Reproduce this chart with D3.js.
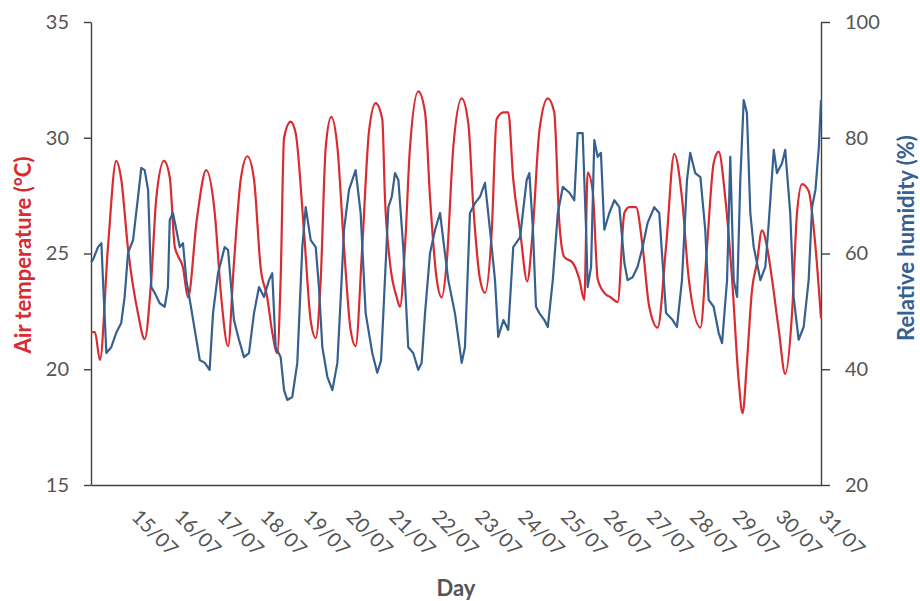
<!DOCTYPE html>
<html>
<head>
<meta charset="utf-8">
<script src="https://cdn.jsdelivr.net/npm/d3@7"></script>
<style>
  body { margin: 0; background: #fff; }
  svg { display: block; font-family: Lato, 'Open Sans', sans-serif; }
</style>
</head>
<body>
<div id="chart"></div>
<script>
// Série horária: [horas desde 14/07 00:00, valor]
const startDay = new Date(2019, 6, 14);
const dayLabels = ['15/07', '16/07', '17/07', '18/07', '19/07', '20/07', '21/07', '22/07',
    '23/07', '24/07', '25/07', '26/07', '27/07', '28/07', '29/07', '30/07', '31/07'];
const tempTicks = [15, 20, 25, 30, 35];
const humTicks = [20, 40, 60, 80, 100];

const airTemp = [
    [0, 21.6], [2.2, 21.6], [5, 20.4], [9.5, 25.3], [14.1, 29.0], [16.9, 28.2], [20.7, 25.2],
    [26.3, 22.4], [30, 21.3], [33.7, 23.9], [36.5, 27.4], [40.8, 29.0], [44, 28.3], [46.8, 25.3],
    [48.6, 24.9], [51.4, 24.4], [54.2, 23.1], [59.2, 26.5], [64.4, 28.6], [69.1, 26.8], [72.8, 23.1],
    [76.6, 21.0], [79.9, 24.6], [83.7, 28.2], [87.4, 29.2], [91.1, 28.2], [94.8, 24.4], [98.5, 23.1],
    [101.3, 21.6], [104.1, 20.7], [106, 23.9], [107.9, 30.0], [111.6, 30.7], [114.4, 30.2],
    [119, 26.0], [122.8, 22.1], [125.6, 21.35], [128.4, 23.9], [131.2, 29.6], [134.3, 30.9],
    [137.7, 29.6], [141.4, 25.3], [145.1, 21.7], [147.9, 21.0], [151.6, 25.3], [155.4, 30.3],
    [159.1, 31.5], [162.8, 30.8], [164.3, 27.4], [167.1, 24.6], [170.9, 23.1], [172.7, 22.7],
    [175.5, 25.3], [178.3, 29.6], [182.9, 32.0], [186.7, 31.1], [189.5, 27.4], [193.2, 23.9],
    [196, 23.1], [198.8, 24.6], [202.5, 29.6], [207.2, 31.7], [210.9, 30.6], [213.7, 27.0],
    [217.4, 23.9], [220.2, 23.3], [224, 26.0], [226.7, 30.8], [230.5, 31.1], [233.2, 31.1],
    [236, 28.2], [239.8, 26.0], [243.8, 23.8], [246.9, 26.0], [250.6, 30.3], [255.3, 31.7],
    [258.9, 31.1], [261.7, 26.4], [264.5, 24.85], [269.2, 24.6], [272.9, 23.9], [275.7, 23.0],
    [277.6, 28.5], [280.4, 27.7], [283.2, 23.9], [286.9, 23.3], [290.6, 23.1], [294.4, 22.9],
    [298.1, 26.75], [300.9, 27.0], [304.6, 27.0], [308.3, 25.3], [312, 22.7], [316.7, 21.8],
    [321.4, 25.3], [326, 29.3], [330.3, 27.4], [334.1, 23.9], [340.6, 21.8], [344.3, 25.3],
    [348, 28.9], [350.8, 29.4], [354.5, 27.4], [358.3, 23.9], [362, 19.5], [364.2, 18.1],
    [366.6, 20.3], [369.4, 23.4], [372.2, 24.6], [375, 26.0], [377.8, 25.3], [380.6, 23.9],
    [384.4, 21.7], [388, 19.8], [391.8, 22.4], [394.6, 26.75], [397.4, 28.0], [401.1, 27.7],
    [404.9, 25.3], [408, 22.2]
];

const relHumidity = [
    [0, 58.5], [1.1, 58.9], [3.9, 61.1], [5.8, 61.8], [6.7, 55.4], [8.6, 42.8], [11.3, 43.8],
    [14.1, 46.3], [16.9, 48.0], [18.8, 52.5], [20.7, 60.1], [23.5, 62.3], [26.3, 69.8], [28.1, 74.8],
    [30, 74.4], [31.9, 71.0], [33.7, 54.2], [35.6, 53.2], [38.4, 51.4], [41.2, 50.8], [43, 54.2],
    [44, 65.8], [45.8, 67.0], [47.7, 64.1], [49.6, 61.1], [51.4, 61.8], [53.3, 55.4], [55.2, 52.0],
    [58, 46.8], [60.8, 41.6], [63.6, 41.1], [66.3, 39.9], [68.2, 49.7], [71, 56.6], [74.7, 61.1],
    [76.6, 60.6], [79.9, 48.5], [82.7, 45.1], [85.5, 42.1], [88.3, 42.8], [91.1, 49.7], [93.9, 54.2],
    [96.7, 52.5], [99.5, 55.4], [101.3, 56.6], [103.2, 43.8], [106, 42.1], [107.9, 36.4],
    [109.7, 34.7], [112.5, 35.2], [115.3, 41.1], [118.1, 61.1], [120, 68.0], [122.8, 62.3],
    [125.6, 61.1], [127.4, 54.2], [129.3, 43.8], [132.1, 38.7], [134.9, 36.4], [137.7, 41.1],
    [139.6, 52.5], [141.4, 64.1], [144.2, 71.0], [147.9, 74.4], [150.7, 67.0], [153.5, 49.7],
    [157.2, 42.8], [160, 39.4], [162.1, 41.5], [163.4, 49.7], [166.2, 68.0], [168.1, 69.8],
    [169.9, 73.9], [171.8, 72.7], [174.5, 61.1], [177.3, 43.8], [180.1, 42.8], [182.9, 39.9],
    [184.8, 41.1], [186.7, 49.7], [189.5, 60.1], [192.3, 64.1], [195.1, 67.0], [196.9, 62.3],
    [199.7, 55.4], [203.4, 49.7], [207.2, 41.1], [209, 43.8], [211.8, 67.0], [214.6, 68.7],
    [217.4, 69.8], [220.2, 72.2], [223, 64.1], [225.8, 55.4], [227.6, 45.6], [230.5, 48.5],
    [233.2, 46.8], [236, 61.1], [239.8, 62.8], [243.5, 72.7], [245, 73.9], [247, 64.1],
    [248.7, 50.8], [250.6, 49.7], [253.4, 48.5], [255.3, 47.3], [258.1, 55.4], [260.9, 67.0],
    [263.7, 71.5], [267.4, 70.5], [270.1, 69.2], [272, 80.8], [274.8, 80.8], [276.7, 64.1],
    [277.6, 54.2], [279.5, 57.7], [281.3, 79.6], [283.2, 76.7], [285, 77.4], [286.9, 64.1],
    [289.7, 67.0], [292.5, 69.2], [295.3, 68.0], [298.1, 58.4], [299.9, 55.4], [302.7, 55.9],
    [305.5, 57.7], [308.3, 61.1], [311.1, 65.3], [314.8, 68.0], [317.6, 67.0], [321.4, 49.7],
    [325.1, 48.5], [327.5, 47.3], [330.3, 55.4], [333.1, 72.7], [334.9, 77.4], [337.7, 73.9],
    [340.6, 73.2], [343.3, 64.1], [345.2, 52.0], [348, 50.8], [350.8, 46.3], [352.7, 44.5],
    [355.5, 55.4], [357.3, 76.7], [359.2, 55.4], [361.1, 52.5], [362.9, 72.7], [364.8, 86.5],
    [366.6, 84.3], [368.5, 67.0], [370.4, 61.1], [372.2, 58.4], [374.1, 55.4], [376.9, 57.7],
    [378.8, 65.3], [381.6, 77.9], [383.4, 73.9], [386.2, 75.6], [388, 77.9], [390.8, 67.0],
    [392.7, 52.5], [395.5, 45.1], [398.3, 47.3], [401.1, 55.4], [403, 68.0], [404.9, 71.0],
    [406.8, 78.4], [408, 86.5]
];

const RED = '#d92b30';
const BLUE = '#35608f';
const GREY = '#555555';

const width = 920, height = 601;
const margin = { top: 22, right: 99, bottom: 116, left: 91 };
const innerW = width - margin.left - margin.right;
const innerH = height - margin.top - margin.bottom;

const svg = d3.select('#chart').append('svg')
    .attr('width', width)
    .attr('height', height);

const g = svg.append('g')
    .attr('transform', `translate(${margin.left},${margin.top})`);

const toDate = h => new Date(startDay.getTime() + h * 3600e3);

const x = d3.scaleTime()
    .domain([startDay, d3.timeDay.offset(startDay, 17)])
    .range([0, innerW]);
const yT = d3.scaleLinear().domain([15, 35]).range([innerH, 0]);
const yH = d3.scaleLinear().domain([20, 100]).range([innerH, 0]);

// Eixo esquerdo (temperatura)
const axL = g.append('g')
    .call(d3.axisLeft(yT).tickValues(tempTicks).tickSize(7).tickSizeOuter(0).tickPadding(15));
// Eixo direito (humidade)
const axR = g.append('g')
    .attr('transform', `translate(${innerW},0)`)
    .call(d3.axisRight(yH).tickValues(humTicks).tickSize(9).tickSizeOuter(0).tickPadding(15));
// Eixo X (dias)
const dayDates = dayLabels.map((_, i) => d3.timeDay.offset(startDay, i + 1));
const axB = g.append('g')
    .attr('transform', `translate(0,${innerH})`)
    .call(d3.axisBottom(x).tickValues(dayDates).tickSize(0).tickSizeOuter(0)
        .tickFormat((d, i) => dayLabels[i]));

[axL, axR, axB].forEach(ax => {
    ax.select('.domain').attr('stroke', '#404040').attr('stroke-width', 1.4);
    ax.selectAll('.tick line').attr('stroke', '#404040').attr('stroke-width', 1.4);
    ax.selectAll('.tick text').attr('fill', GREY).attr('font-size', '20px')
        .attr('font-family', "Lato, 'Open Sans', sans-serif");
});

axB.selectAll('.tick text')
    .attr('text-anchor', 'start')
    .attr('x', 0).attr('y', 0).attr('dy', 0)
    .attr('transform', 'translate(-4,33) rotate(45)');

// Linhas
const tempLine = d3.line()
    .x(d => x(toDate(d[0])))
    .y(d => yT(d[1]))
    .curve(d3.curveMonotoneX);
const humLine = d3.line()
    .x(d => x(toDate(d[0])))
    .y(d => yH(d[1]));

g.append('path')
    .datum(airTemp)
    .attr('fill', 'none')
    .attr('stroke', RED)
    .attr('stroke-width', 2.2)
    .attr('stroke-linejoin', 'round')
    .attr('d', tempLine);

g.append('path')
    .datum(relHumidity)
    .attr('fill', 'none')
    .attr('stroke', BLUE)
    .attr('stroke-width', 2.2)
    .attr('stroke-linejoin', 'round')
    .attr('d', humLine);

// Títulos dos eixos
svg.append('text')
    .attr('transform', 'translate(22,255) rotate(-90)')
    .attr('text-anchor', 'middle')
    .attr('dominant-baseline', 'central')
    .attr('fill', RED)
    .attr('font-size', '22px')
    .attr('font-weight', 'bold')
    .text('Air temperature (°C)');

svg.append('text')
    .attr('transform', 'translate(905,238) rotate(-90)')
    .attr('text-anchor', 'middle')
    .attr('dominant-baseline', 'central')
    .attr('fill', BLUE)
    .attr('font-size', '22px')
    .attr('font-weight', 'bold')
    .text('Relative humidity (%)');

svg.append('text')
    .attr('x', margin.left + innerW / 2)
    .attr('y', 596)
    .attr('text-anchor', 'middle')
    .attr('fill', GREY)
    .attr('font-size', '22px')
    .attr('font-weight', 'bold')
    .text('Day');
</script>
</body>
</html>
